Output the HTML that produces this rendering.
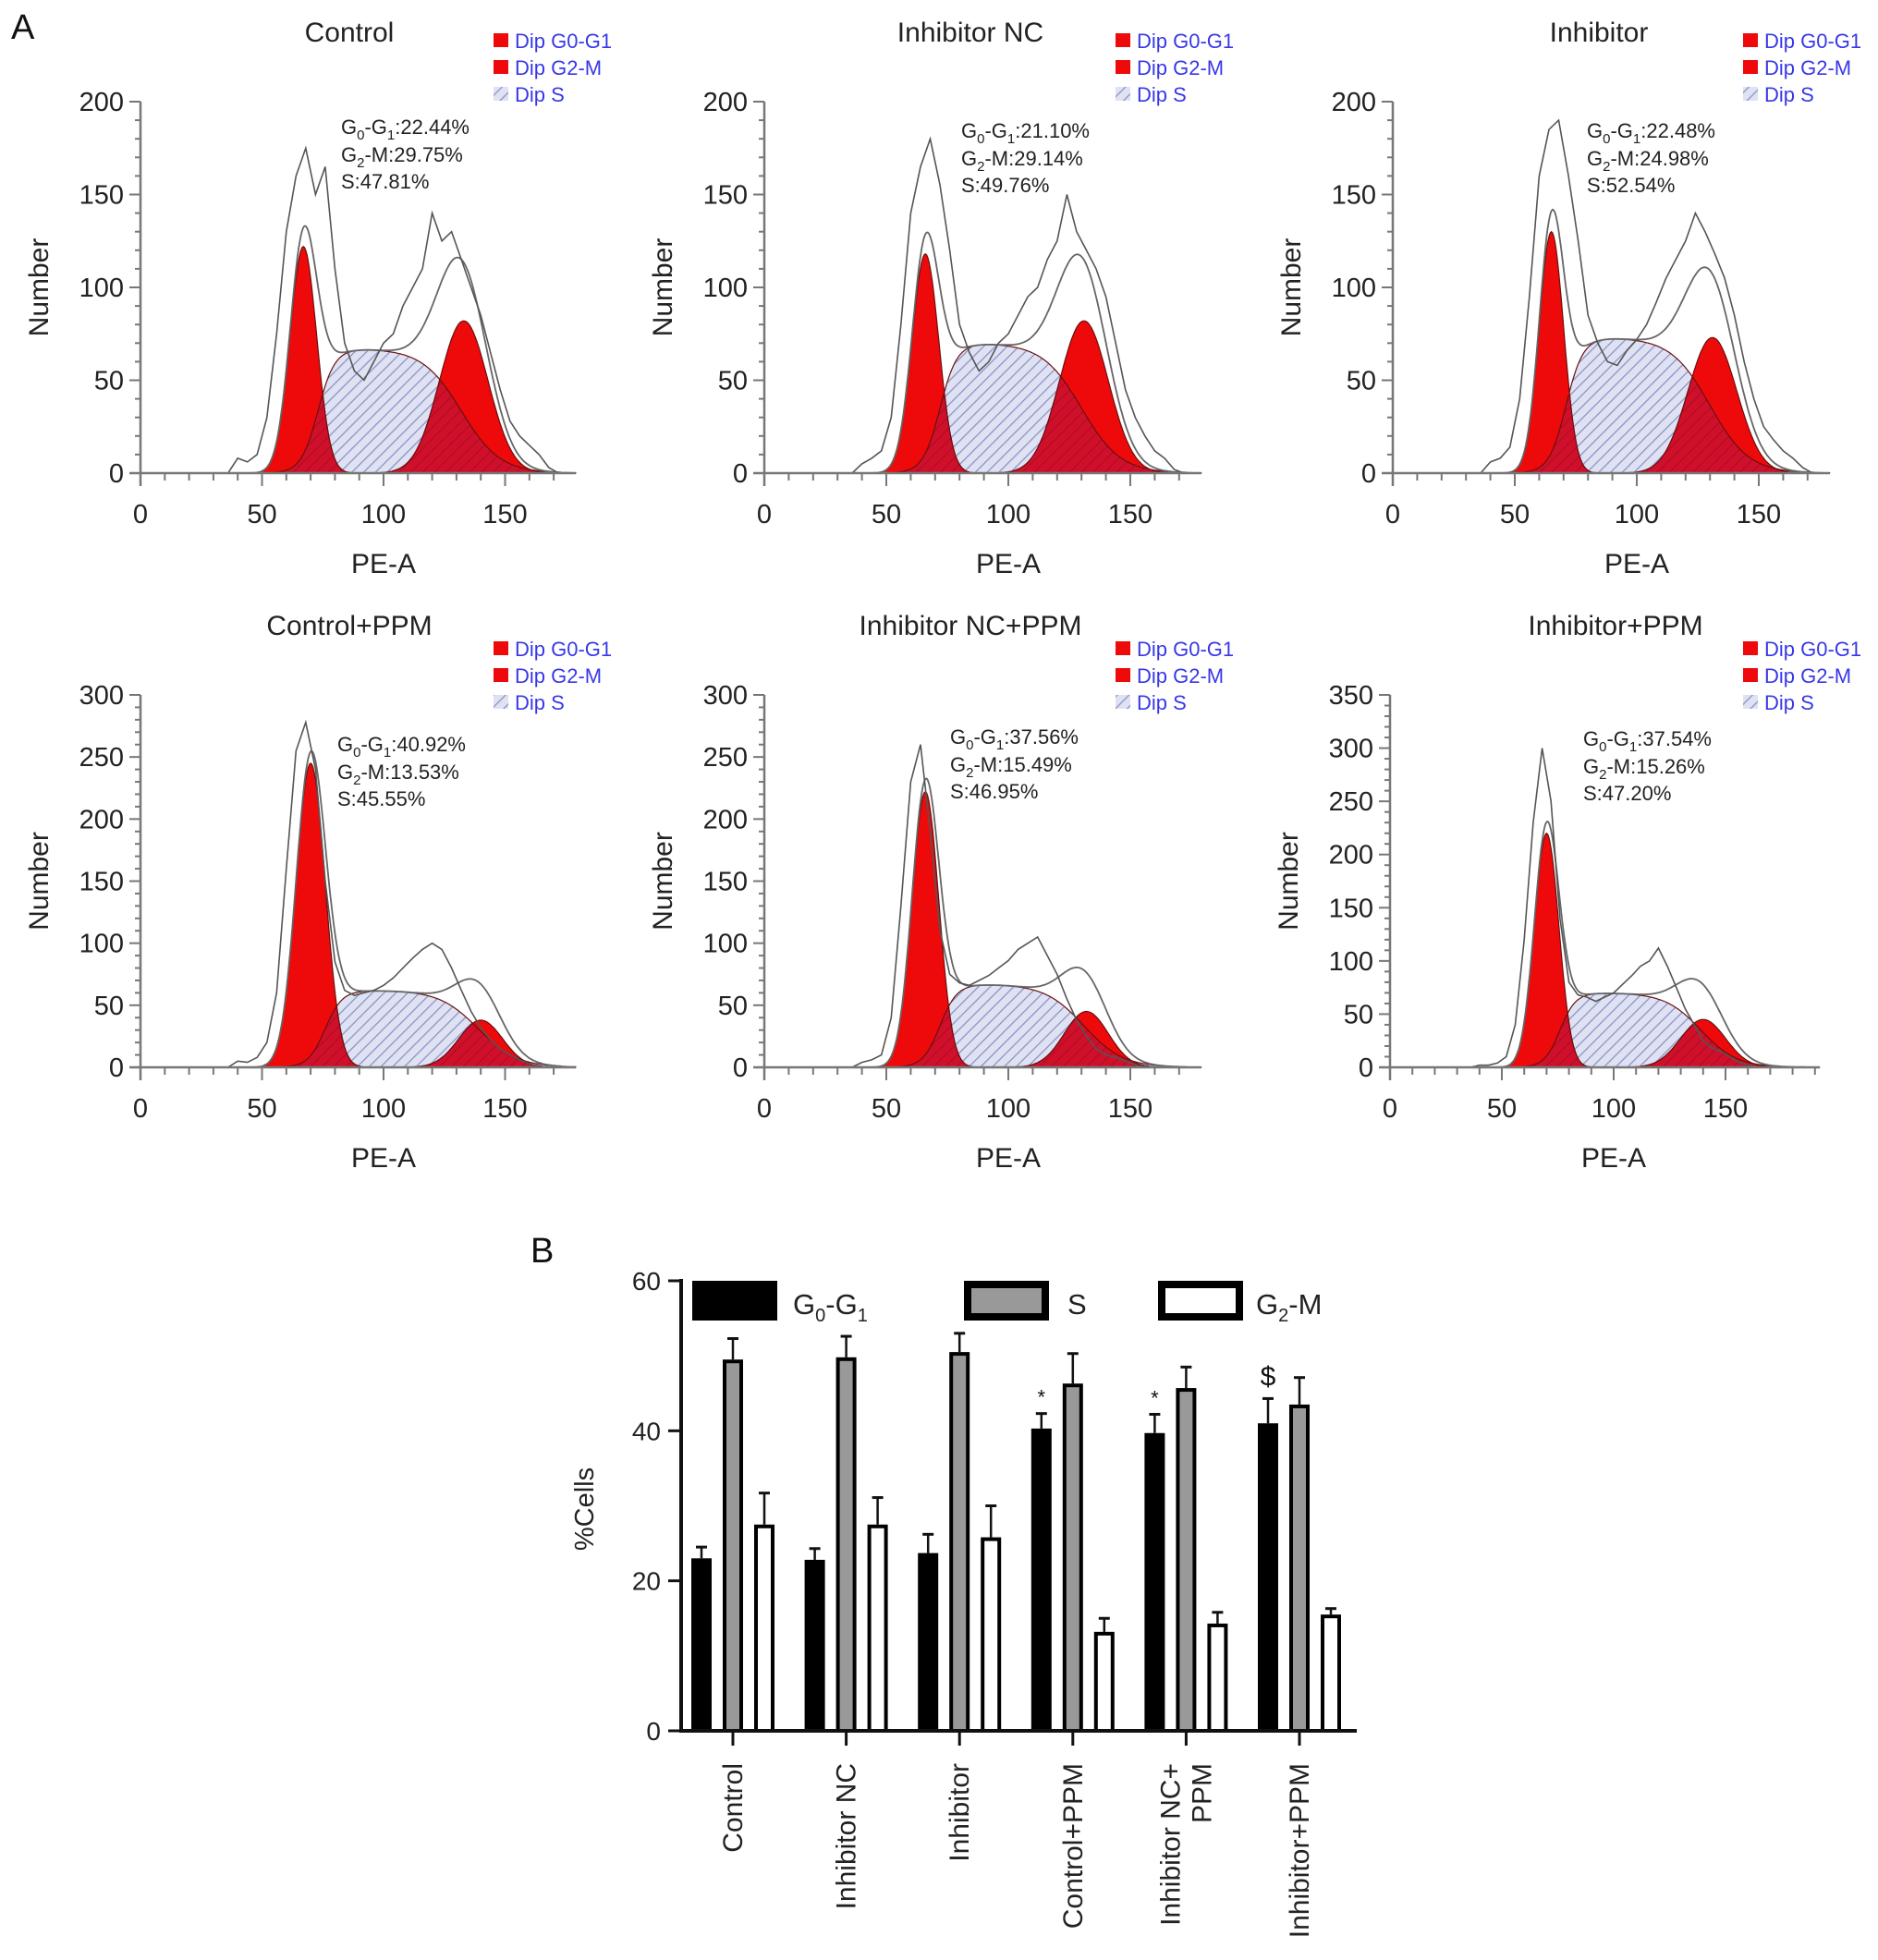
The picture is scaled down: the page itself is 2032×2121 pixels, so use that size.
<!DOCTYPE html>
<html><head><meta charset="utf-8">
<style>
html,body{margin:0;padding:0;background:#fff;}
svg{display:block;font-family:"Liberation Sans",Arial,sans-serif;}
</style></head>
<body>
<svg id="fig" width="2032" height="2121" viewBox="0 0 2032 2121" xmlns="http://www.w3.org/2000/svg">
<defs>
<pattern id="hatch" patternUnits="userSpaceOnUse" width="9" height="9" patternTransform="rotate(45)">
<rect width="9" height="9" fill="#dfe2f3"/><line x1="0" y1="0" x2="0" y2="9" stroke="#8a90c4" stroke-width="2.5"/>
</pattern>
<pattern id="hatchRed" patternUnits="userSpaceOnUse" width="9" height="9" patternTransform="rotate(45)">
<rect width="9" height="9" fill="#d0102a"/><line x1="0" y1="0" x2="0" y2="9" stroke="#b00c25" stroke-width="2.5"/>
</pattern>
</defs>
<text x="12" y="42" font-size="38" fill="#111">A</text>
<text x="574" y="1366" font-size="38" fill="#111">B</text>
<g id="hists"></g>
<g id="bars"></g>
</svg>
<script>
// ---------- Histogram data ----------
const panelTitles = ["Control","Inhibitor NC","Inhibitor","Control+PPM","Inhibitor NC+PPM","Inhibitor+PPM"];
const g1Pct = ["22.44%","21.10%","22.48%","40.92%","37.56%","37.54%"];
const g2Pct = ["29.75%","29.14%","24.98%","13.53%","15.49%","15.26%"];
const sPct  = ["47.81%","49.76%","52.54%","45.55%","46.95%","47.20%"];
const yMaxes = [200,200,200,300,300,350];
const xMaxes = [179,179,179,179,179,192];
const g1Mean = [67,66,65,70,66,70];
const g1Peak = [122,118,130,245,222,220];
const g1Sd   = [5.5,5.5,5,6,5.5,5.5];
const g2Mean = [133,131,131,140,132,140];
const g2Peak = [82,82,73,38,45,45];
const g2Sd   = [10,10,10,9,9,10];
const sLevel = [67,70,73,62,67,70];
const rawStart = 36, rawStep = 4;
const rawCounts = [
 [0,8,6,10,30,75,130,160,175,150,165,110,70,55,50,60,70,75,90,100,110,140,125,130,115,100,85,65,45,28,20,15,10,3,0],
 [0,5,8,12,30,80,140,165,180,155,120,80,65,55,60,70,75,85,95,100,115,125,150,130,120,110,95,70,45,30,20,12,8,2,0],
 [0,6,8,14,40,95,160,185,190,160,125,85,70,60,58,66,72,80,92,105,115,125,140,130,118,105,85,60,40,25,18,12,8,3,0],
 [0,5,4,8,20,60,160,255,278,240,150,85,62,58,60,62,66,72,80,88,95,100,95,80,62,45,32,22,15,10,6,3,0,0,0],
 [0,4,6,10,40,130,230,260,190,110,75,68,66,70,74,80,86,95,100,105,90,75,55,38,25,15,10,8,5,2,0,0,0,0,0],
 [0,2,2,4,10,40,120,230,300,250,140,80,68,66,62,66,70,78,86,95,100,112,95,75,55,40,25,18,15,10,5,2,0,0,0]
];
// panel geometry (pixels only)
const geo = [
 {x0:152,sx:2.63,y0:512,yt:110},{x0:827,sx:2.64,y0:512,yt:110},{x0:1507,sx:2.64,y0:512,yt:110},
 {x0:152,sx:2.63,y0:1155,yt:752},{x0:827,sx:2.64,y0:1155,yt:752},{x0:1504,sx:2.42,y0:1155,yt:752}
];
const titlePos=[[378,45],[1050,45],[1730,45],[378,687],[1050,687],[1748,687]];
const legendX=[542,1215,1894,542,1215,1894];
const legendY=[45,45,45,703,703,703];
const annoPos=[[369,145],[1040,149],[1717,149],[365,813],[1028,805],[1713,807]];

const NS="http://www.w3.org/2000/svg";
function mk(tag,attrs,parent){const e=document.createElementNS(NS,tag);for(const k in attrs)e.setAttribute(k,attrs[k]);parent.appendChild(e);return e;}
function sig(z){return 1/(1+Math.exp(-z));}
const hists=document.getElementById('hists');

for(let p=0;p<6;p++){
  const g=geo[p];
  const X=v=>g.x0+v*g.sx;
  const Y=v=>g.y0-(v/yMaxes[p])*(g.y0-g.yt);
  const G1=x=>g1Peak[p]*Math.exp(-0.5*Math.pow((x-g1Mean[p])/g1Sd[p],2));
  const G2=x=>g2Peak[p]*Math.exp(-0.5*Math.pow((x-g2Mean[p])/g2Sd[p],2));
  const S=x=>sLevel[p]*sig((x-(g1Mean[p]+6))/3.5)*sig(((g2Mean[p]-1)-x)/8);
  const grp=mk('g',{},hists);
  
  
  function area(fn,fill,name){
    let d='M'+X(30)+','+Y(0);
    for(let x=30;x<=xMaxes[p];x+=0.5)d+=' L'+X(x).toFixed(1)+','+Y(fn(x)).toFixed(1);
    d+=' L'+X(xMaxes[p])+','+Y(0)+' Z';
    const e=mk('path',{d:d,fill:fill,stroke:'#6a1010','stroke-width':1.2},grp);
    
    
  }
  area(S,'url(#hatch)','s-phase-area');
  area(G1,'#ee0a0a','g0-g1-area');
  area(G2,'#ee0a0a','g2-m-area');
  area(x=>Math.min(G1(x),S(x)),'url(#hatchRed)','g1-s-overlap');
  area(x=>Math.min(G2(x),S(x)),'url(#hatchRed)','g2-s-overlap');
  // fit line
  let d='';
  for(let x=36;x<=xMaxes[p]-6;x+=0.5){d+=(d?' L':'M')+X(x).toFixed(1)+','+Y(G1(x)+G2(x)+S(x)).toFixed(1);}
  let fl=mk('path',{d:d,fill:'none',stroke:'#666','stroke-width':1.8},grp);
  
  
  // raw histogram
  d='';
  rawCounts[p].forEach((v,i)=>{d+=(i?' L':'M')+X(rawStart+i*rawStep).toFixed(1)+','+Y(v).toFixed(1);});
  let rl=mk('path',{d:d,fill:'none',stroke:'#555','stroke-width':1.6},grp);
  
  
  // axes
  let ya=mk('line',{x1:g.x0,y1:g.yt,x2:g.x0,y2:g.y0+14,stroke:'#777','stroke-width':2.5},grp);
  
  
  let xa=mk('line',{x1:g.x0-12,y1:g.y0,x2:X(xMaxes[p]),y2:g.y0,stroke:'#777','stroke-width':2.5},grp);
  
  
  for(let v=0;v<=yMaxes[p];v+=10){
    const maj=v%50===0;
    mk('line',{x1:g.x0-(maj?12:6),y1:Y(v),x2:g.x0,y2:Y(v),stroke:'#777','stroke-width':2},grp);
    if(maj){const t=mk('text',{x:g.x0-18,y:Y(v)+10,'font-size':29,'text-anchor':'end',fill:'#222'},grp);t.textContent=v;
      
      }
  }
  for(let v=0;v<=xMaxes[p];v+=10){
    const maj=v%50===0;
    mk('line',{x1:X(v),y1:g.y0,x2:X(v),y2:g.y0+(maj?14:8),stroke:'#777','stroke-width':2},grp);
    if(maj){const t=mk('text',{x:X(v),y:g.y0+54,'font-size':29,'text-anchor':'middle',fill:'#222'},grp);t.textContent=v;
      
      }
  }
  const tt=mk('text',{x:titlePos[p][0],y:titlePos[p][1],'font-size':30,'text-anchor':'middle',fill:'#222'},grp);tt.textContent=panelTitles[p];
  
  
  const yl=mk('text',{transform:`translate(${g.x0-100},${(g.y0+g.yt)/2}) rotate(-90)`,'font-size':30,'text-anchor':'middle',fill:'#222'},grp);yl.textContent='Number';
  
  
  const xl=mk('text',{x:X(100),y:g.y0+108,'font-size':30,'text-anchor':'middle',fill:'#222'},grp);xl.textContent='PE-A';
  
  
  // legend
  const labs=['Dip G0-G1','Dip G2-M','Dip S'];
  labs.forEach((l,i)=>{
    const ly=legendY[p]+i*29;
    const r=mk('rect',{x:legendX[p]-8,y:ly-9,width:16,height:15,fill:i<2?'#ee0a0a':'url(#hatch)'},grp);
    
    
    const t=mk('text',{x:legendX[p]+15,y:ly+7,'font-size':22,fill:'#3838e8'},grp);t.textContent=l;
    
    
  });
  // annotation
  const ax=annoPos[p][0], ay=annoPos[p][1];
  const a=mk('text',{x:ax,y:ay,'font-size':22,fill:'#222'},grp);
  a.innerHTML=`G<tspan font-size="15" dy="6">0</tspan><tspan dy="-6">-G</tspan><tspan font-size="15" dy="6">1</tspan><tspan dy="-6">:${g1Pct[p]}</tspan>`;
  
  
  const b=mk('text',{x:ax,y:ay+30,'font-size':22,fill:'#222'},grp);
  b.innerHTML=`G<tspan font-size="15" dy="6">2</tspan><tspan dy="-6">-M:${g2Pct[p]}</tspan>`;
  
  
  const c=mk('text',{x:ax,y:ay+59,'font-size':22,fill:'#222'},grp);c.textContent='S:'+sPct[p];
  
  
}

// ---------- Bar chart data ----------
const barCats = ["Control","Inhibitor NC","Inhibitor","Control+PPM","Inhibitor NC+\nPPM","Inhibitor+PPM"];
const g1Vals = [23.0,22.8,23.7,40.3,39.7,41.0];
const sVals  = [49.5,49.8,50.5,46.3,45.7,43.5];
const g2Vals = [27.5,27.5,25.8,13.2,14.3,15.5];
const g1Err = [1.5,1.5,2.5,2.0,2.5,3.3];
const sErr  = [2.8,2.8,2.5,4.0,2.8,3.6];
const g2Err = [4.2,3.6,4.2,1.8,1.5,0.8];
const sigMarks = ["","","","*","*","$"];
const yTicks = [0,20,40,60];

const bars=document.getElementById('bars');
const BX0=737, BY0=1873, BY60=1386, BXEND=1468;
const BY=v=>BY0-(v/60)*(BY0-BY60);
const catX=i=>793+i*122.6;
const series=[{v:g1Vals,e:g1Err,off:-34,fill:'#000',name:'g0-g1'},{v:sVals,e:sErr,off:0,fill:'#999',name:'s'},{v:g2Vals,e:g2Err,off:34,fill:'#fff',name:'g2-m'}];
series.forEach(s=>{
  s.v.forEach((v,i)=>{
    const cx=catX(i)+s.off, w=22;
    const top=BY(v+s.e[i]);
    mk('line',{x1:cx,y1:top,x2:cx,y2:BY(v),stroke:'#111','stroke-width':2.5},bars);
    mk('line',{x1:cx-6,y1:top,x2:cx+6,y2:top,stroke:'#111','stroke-width':3},bars);
    const r=mk('rect',{x:cx-w/2+2,y:BY(v)+2,width:w-4,height:BY0-BY(v)-2,fill:s.fill,stroke:'#000','stroke-width':4},bars);
    
    
  });
});
sigMarks.forEach((m,i)=>{
  if(!m)return;
  const t=mk('text',{x:catX(i)-34,y:BY(g1Vals[i]+g1Err[i])-(m==='$'?14:10),'font-size':m==='$'?30:22,'text-anchor':'middle',fill:'#111'},bars);
  t.textContent=m;
  
  
});
let bya=mk('line',{x1:BX0,y1:BY60-2,x2:BX0,y2:BY0+2,stroke:'#111','stroke-width':4},bars);


let bxa=mk('line',{x1:BX0-2,y1:BY0,x2:BXEND,y2:BY0,stroke:'#111','stroke-width':4},bars);


yTicks.forEach(v=>{
  mk('line',{x1:BX0-14,y1:BY(v),x2:BX0,y2:BY(v),stroke:'#111','stroke-width':3},bars);
  const t=mk('text',{x:BX0-22,y:BY(v)+10,'font-size':28,'text-anchor':'end',fill:'#222'},bars);t.textContent=v;
  
  
});
barCats.forEach((c,i)=>{
  mk('line',{x1:catX(i),y1:BY0,x2:catX(i),y2:BY0+16,stroke:'#111','stroke-width':3},bars);
  const lines=c.split('\n');
  lines.forEach((ln,j)=>{
    const x=catX(i)+10+(j-(lines.length-1)/2)*34;
    const t=mk('text',{transform:`translate(${x},1908) rotate(-90)`,'font-size':30,'text-anchor':'end',fill:'#222'},bars);
    t.textContent=ln;
    
    
  });
});
const yt=mk('text',{transform:'translate(642,1633) rotate(-90)','font-size':29,'text-anchor':'middle',fill:'#222'},bars);yt.textContent='%Cells';


// legend
const legItems=[{x:749,fill:'#000',lab:'G<tspan font-size="20" dy="8">0</tspan><tspan dy="-8">-G</tspan><tspan font-size="20" dy="8">1</tspan>',tx:858},
 {x:1043,fill:'#999',lab:'S',tx:1155},{x:1253,fill:'#fff',lab:'G<tspan font-size="20" dy="8">2</tspan><tspan dy="-8">-M</tspan>',tx:1359}];
legItems.forEach(l=>{
  const r=mk('rect',{x:l.x+4,y:1390,width:84,height:35,fill:l.fill,stroke:'#000','stroke-width':8},bars);
  
  
  const t=mk('text',{x:l.tx,y:1422,'font-size':31,fill:'#222'},bars);t.innerHTML=l.lab;
  
  
});
</script>
</body></html>
